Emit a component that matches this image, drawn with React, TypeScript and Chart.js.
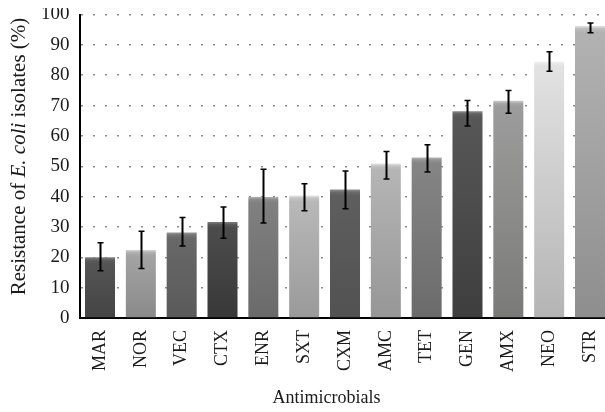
import { useEffect, useRef } from "react";
import { Chart, registerables } from "chart.js";

Chart.register(...registerables);

const categories = ["MAR", "NOR", "VEC", "CTX", "ENR", "SXT", "CXM", "AMC", "TET", "GEN", "AMX", "NEO", "STR"];
const resistance = [20.0, 22.4, 28.2, 31.6, 39.9, 40.4, 42.3, 50.9, 52.9, 68.1, 71.6, 85.1, 96.2];
const errorUpper = [24.8, 28.6, 33.1, 36.6, 49.0, 44.2, 48.4, 54.9, 57.1, 71.7, 75.0, 87.7, 97.2];
const errorLower = [15.6, 16.3, 23.7, 26.3, 31.3, 35.3, 36.0, 45.8, 48.1, 63.3, 67.5, 81.3, 94.0];
const yMin = 0;
const yMax = 100;
const yStep = 10;
const xTitle = "Antimicrobials";
const yTitleParts = [
  { text: "Resistance of ", italic: false },
  { text: "E. coli", italic: true },
  { text: " isolates (%)", italic: false },
];

// styles (kept separate from the data)
const topColors = ["#555555", "#a3a3a3", "#686868", "#4c4c4c", "#808080", "#b8b8b8", "#5e5e5e", "#b5b5b5", "#858585", "#575757", "#9c9c9c", "#e2e2e2", "#b2b2b2"];
const bottomColors = ["#444444", "#8a8a8a", "#5a5a5a", "#383838", "#6a6a6a", "#9a9a9a", "#525252", "#969696", "#6b6b6b", "#3e3e3e", "#7a7a78", "#b4b4b4", "#8e8e8e"];

const FONT = "'Liberation Serif', 'DejaVu Serif', serif";

function lighten(hex: string, amt: number): string {
  const n = parseInt(hex.slice(1), 16);
  const r = Math.min(255, ((n >> 16) & 255) + amt);
  const g = Math.min(255, ((n >> 8) & 255) + amt);
  const b = Math.min(255, (n & 255) + amt);
  return `rgb(${r},${g},${b})`;
}

const errorBarPlugin = {
  id: "errorBars",
  afterDatasetsDraw(chart: any) {
    const meta = chart.getDatasetMeta(0);
    const y = chart.scales.y;
    const ctx = chart.ctx;
    ctx.save();
    ctx.strokeStyle = "#000";
    meta.data.forEach((bar: any, i: number) => {
      const x = Math.round(bar.x) + 0.5;
      const yHi = y.getPixelForValue(errorUpper[i]);
      const yLo = y.getPixelForValue(errorLower[i]);
      ctx.lineWidth = 2;
      ctx.beginPath();
      ctx.moveTo(x, yHi);
      ctx.lineTo(x, yLo);
      ctx.stroke();
      ctx.lineWidth = 1.5;
      ctx.beginPath();
      ctx.moveTo(x - 3, yHi);
      ctx.lineTo(x + 3, yHi);
      ctx.moveTo(x - 3, yLo);
      ctx.lineTo(x + 3, yLo);
      ctx.stroke();
    });
    ctx.restore();
  },
};

const titlesPlugin = {
  id: "axisTitles",
  afterDraw(chart: any) {
    const ctx = chart.ctx;
    ctx.save();
    ctx.fillStyle = "#1a1a1a";
    ctx.textBaseline = "middle";
    // x title
    ctx.font = `18px ${FONT}`;
    ctx.textAlign = "center";
    ctx.fillText(xTitle, 318.5, 390);
    // y title with italic part
    ctx.translate(11, 148.5);
    ctx.rotate(-Math.PI / 2);
    ctx.textAlign = "left";
    const fonts = yTitleParts.map((p) => `${p.italic ? "italic " : ""}21px ${FONT}`);
    let total = 0;
    const widths = yTitleParts.map((p, i) => {
      ctx.font = fonts[i];
      const w = ctx.measureText(p.text).width;
      total += w;
      return w;
    });
    let cx = -total / 2;
    yTitleParts.forEach((p, i) => {
      ctx.font = fonts[i];
      ctx.fillText(p.text, cx, 0);
      cx += widths[i];
    });
    ctx.restore();
  },
};

export default function App() {
  const ref = useRef<HTMLCanvasElement>(null);

  useEffect(() => {
    if (!ref.current) return;
    const chart = new Chart(ref.current, {
      type: "bar",
      data: {
        labels: categories,
        datasets: [
          {
            data: resistance,
            backgroundColor: (c: any) => {
              const i = c.dataIndex;
              const chartObj = c.chart;
              if (!chartObj.chartArea || c.type !== "data" || !chartObj.scales.y) return bottomColors[i];
              const ys = chartObj.scales.y;
              const top = ys.getPixelForValue(resistance[i]);
              const bottom = ys.getPixelForValue(0);
              const h = Math.max(bottom - top, 10);
              const g = chartObj.ctx.createLinearGradient(0, top, 0, bottom);
              g.addColorStop(0, lighten(topColors[i], 45));
              g.addColorStop(1.5 / h, lighten(topColors[i], 30));
              g.addColorStop(2.5 / h, lighten(topColors[i], 12));
              g.addColorStop(6 / h, topColors[i]);
              g.addColorStop(1, bottomColors[i]);
              return g;
            },
            borderWidth: 0,
            barPercentage: 0.735,
            categoryPercentage: 1,
          },
        ],
      },
      options: {
        responsive: false,
        animation: false,
        devicePixelRatio: 1,
        layout: { padding: { left: 0, top: 6.5, right: 17.6, bottom: 0 } },
        plugins: { legend: { display: false }, tooltip: { enabled: false } },
        scales: {
          x: {
            grid: { display: false, drawTicks: false },
            border: { display: true, color: "#000", width: 2 },
            ticks: {
              minRotation: 90,
              maxRotation: 90,
              padding: 12,
              color: "#1a1a1a",
              font: { family: FONT, size: 18 },
            },
            afterFit(scale: any) {
              scale.height = 94;
              scale.paddingLeft = 0;
              scale.paddingRight = 0;
            },
          },
          y: {
            min: yMin,
            max: yMax,
            grid: { color: "#8a8a8a", lineWidth: 1.5, drawTicks: false },
            border: { display: true, color: "#000", width: 2, dash: [2, 10] },
            ticks: {
              stepSize: yStep,
              padding: 10,
              color: "#1a1a1a",
              font: { family: FONT, size: 19 },
            },
            afterFit(scale: any) {
              scale.width = 71.6;
              scale.paddingTop = 0;
              scale.paddingBottom = 0;
            },
          },
        },
      },
      plugins: [errorBarPlugin, titlesPlugin],
    });
    return () => chart.destroy();
  }, []);

  return (
    <div style={{ position: "fixed", left: 0, top: 0, width: 605, height: 412, overflow: "hidden" }}>
      <canvas
        ref={ref}
        width={620}
        height={404}
        style={{ position: "absolute", left: 8, top: 8, display: "block", width: 620, height: 404 }}
      />
    </div>
  );
}
